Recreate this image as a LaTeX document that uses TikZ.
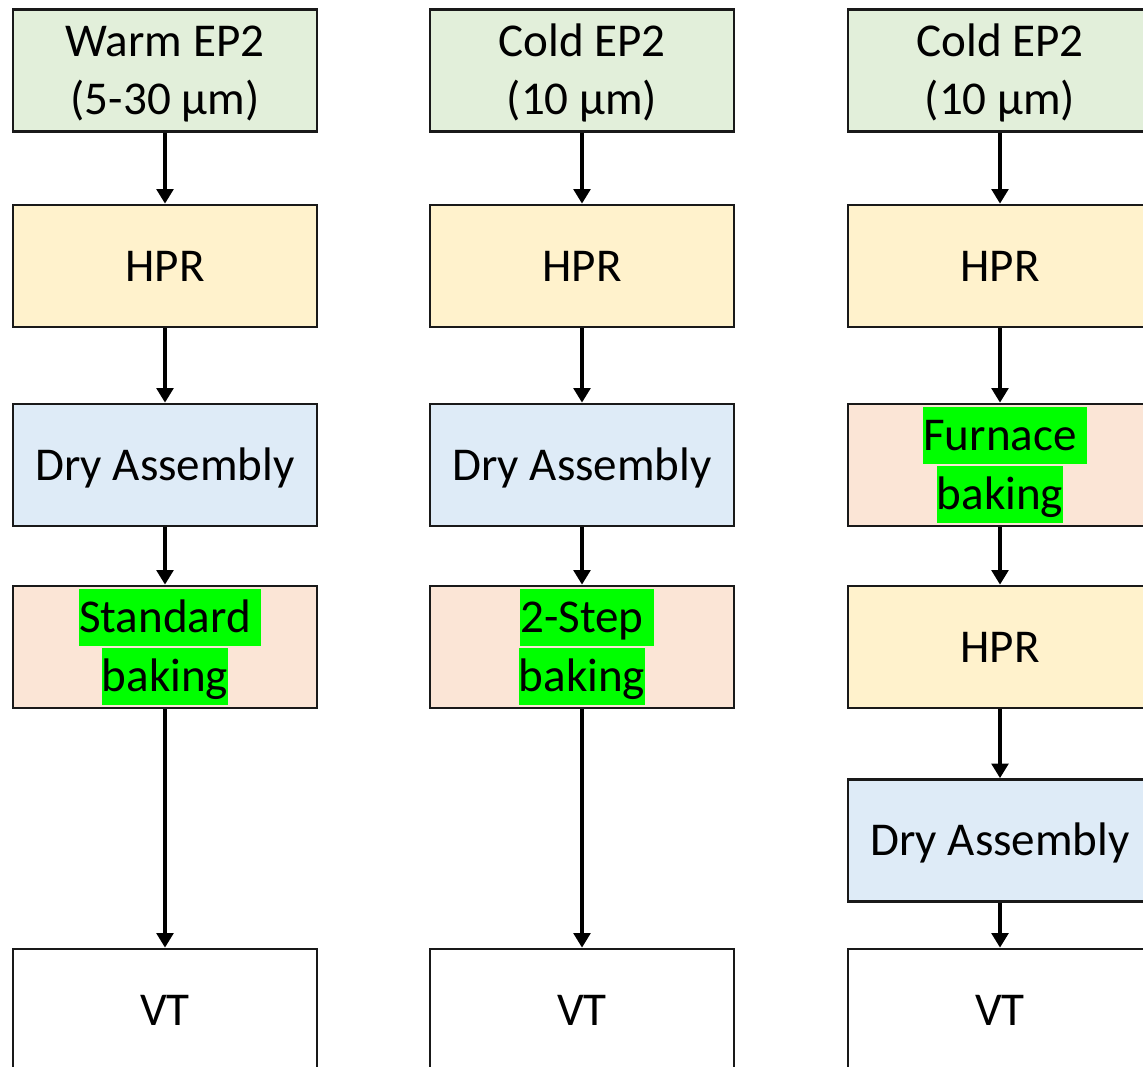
\documentclass[tikz,border=0pt]{standalone}
\usepackage{fontspec}
\setmainfont{Carlito}
\usetikzlibrary{arrows.meta}

\definecolor{epgreen}{HTML}{E2EFDA}
\definecolor{hpryellow}{HTML}{FFF2CC}
\definecolor{dryblue}{HTML}{DEEBF7}
\definecolor{bakepink}{HTML}{FBE5D6}
\definecolor{hl}{HTML}{00FF00}

\setlength{\fboxsep}{0pt}
% line strut, highlighted line, highlighted line with trailing space
\newcommand{\ls}{\rule[-0.29em]{0pt}{1.22em}}
\newcommand{\hl}[1]{\colorbox{hl}{\ls#1}}
\newcommand{\hlsp}[1]{\hl{#1}\rlap{\color{hl}\rule[-0.29em]{0.22em}{1.22em}}}

\tikzset{
  stage/.style={draw=black!90, line width=2pt, minimum width=228pt,
    minimum height=91.5pt, inner sep=0pt, align=center,
    font=\fontsize{35.3pt}{42.7pt}\selectfont},
  ep/.style={stage, fill=epgreen},
  hpr/.style={stage, fill=hpryellow},
  dry/.style={stage, fill=dryblue},
  bake/.style={stage, fill=bakepink},
  vt/.style={stage, fill=white}
}

\begin{document}
\begin{tikzpicture}[x=0.75pt, y=-0.75pt, >={Triangle[width=12.5pt,length=11pt]}]
  \useasboundingbox (0,0) rectangle (1143,1067);

  % Column 1: warm EP2
  \node[ep]   (ep1)   at (165,70.5) {\ls Warm EP2\\\ls(5-30 µm)};
  \node[hpr]  (hpr1)  at (165,266)  {\ls HPR};
  \node[dry]  (dry1)  at (165,465)  {\ls Dry Assembly};
  \node[bake] (bake1) at (165,647)  {\hlsp{Standard}\\\hl{baking}};
  \node[vt]   (vt1)   at (165,1010) {\ls VT};

  % Column 2: cold EP2, 2-step baking
  \node[ep]   (ep2)   at (582,70.5) {\ls Cold EP2\\\ls(10 µm)};
  \node[hpr]  (hpr2)  at (582,266)  {\ls HPR};
  \node[dry]  (dry2)  at (582,465)  {\ls Dry Assembly};
  \node[bake] (bake2) at (582,647)  {\hlsp{2-Step}\\\hl{baking}};
  \node[vt]   (vt2)   at (582,1010) {\ls VT};

  % Column 3: cold EP2, furnace baking
  \node[ep]   (ep3)   at (1000,70.5)  {\ls Cold EP2\\\ls(10 µm)};
  \node[hpr]  (hpr3)  at (1000,266)   {\ls HPR};
  \node[bake] (bake3) at (1000,465)   {\hlsp{Furnace}\\\hl{baking}};
  \node[hpr]  (hpr3b) at (1000,647)   {\ls HPR};
  \node[dry]  (dry3)  at (1000,840.5) {\ls Dry Assembly};
  \node[vt]   (vt3)   at (1000,1010)  {\ls VT};

  % Arrows
  \foreach \a/\b in {ep1/hpr1, hpr1/dry1, dry1/bake1, bake1/vt1,
                     ep2/hpr2, hpr2/dry2, dry2/bake2, bake2/vt2,
                     ep3/hpr3, hpr3/bake3, bake3/hpr3b, hpr3b/dry3, dry3/vt3}{
    \draw[->, line width=2.8pt] (\a) -- (\b);
  }
\end{tikzpicture}
\end{document}
